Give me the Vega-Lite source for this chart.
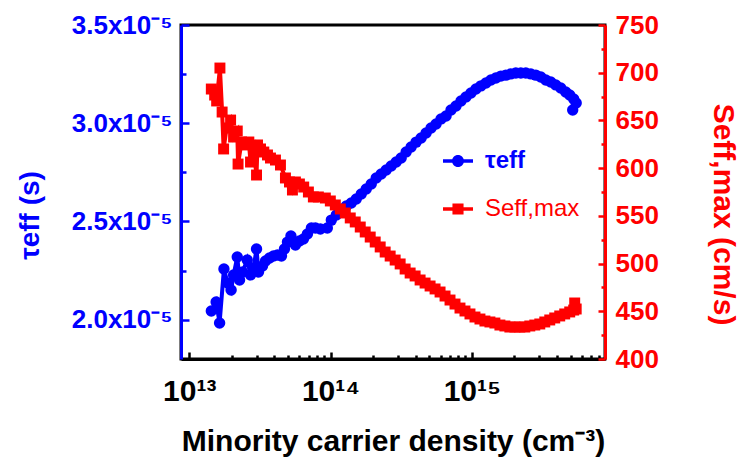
{
  "$schema": "https://vega.github.io/schema/vega-lite/v6.json",
  "width": 424,
  "height": 334,
  "autosize": {"type": "none"},
  "padding": {"left": 181, "top": 25, "right": 137, "bottom": 107},
  "background": "white",
  "config": {
    "view": {"stroke": "black", "strokeWidth": 3},
    "font": "Liberation Sans",
    "axis": {"grid": false, "ticks": true, "labelFont": "Liberation Sans", "titleFont": "Liberation Sans", "labelFontWeight": "bold", "titleFontWeight": "bold", "labelOverlap": false, "labelFlush": false, "labelBound": false}
  },
  "datasets": {
    "tau": [
      {"n": 1.434e13, "tau": 2.044e-5}, {"n": 1.551e13, "tau": 2.090e-5}, {"n": 1.641e13, "tau": 1.983e-5},
      {"n": 1.761e13, "tau": 2.258e-5}, {"n": 1.869e13, "tau": 2.187e-5}, {"n": 1.979e13, "tau": 2.151e-5},
      {"n": 2.061e13, "tau": 2.228e-5}, {"n": 2.188e13, "tau": 2.319e-5}, {"n": 2.272e13, "tau": 2.202e-5},
      {"n": 2.386e13, "tau": 2.243e-5}, {"n": 2.575e13, "tau": 2.304e-5}, {"n": 2.716e13, "tau": 2.228e-5},
      {"n": 2.852e13, "tau": 2.263e-5}, {"n": 2.995e13, "tau": 2.360e-5}, {"n": 3.094e13, "tau": 2.243e-5},
      {"n": 3.302e13, "tau": 2.273e-5}, {"n": 3.467e13, "tau": 2.299e-5}, {"n": 3.700e13, "tau": 2.314e-5},
      {"n": 3.948e13, "tau": 2.324e-5}, {"n": 4.213e13, "tau": 2.329e-5}, {"n": 4.496e13, "tau": 2.324e-5},
      {"n": 4.721e13, "tau": 2.360e-5}, {"n": 4.956e13, "tau": 2.395e-5}, {"n": 5.246e13, "tau": 2.426e-5},
      {"n": 5.644e13, "tau": 2.380e-5}, {"n": 6.024e13, "tau": 2.401e-5}, {"n": 6.429e13, "tau": 2.411e-5},
      {"n": 6.861e13, "tau": 2.436e-5}, {"n": 7.320e13, "tau": 2.467e-5}, {"n": 7.812e13, "tau": 2.467e-5},
      {"n": 8.472e13, "tau": 2.462e-5}, {"n": 9.493e13, "tau": 2.467e-5}, {"n": 1.013e14, "tau": 2.507e-5},
      {"n": 1.099e14, "tau": 2.533e-5}, {"n": 1.192e14, "tau": 2.558e-5}, {"n": 1.293e14, "tau": 2.579e-5},
      {"n": 1.402e14, "tau": 2.594e-5}, {"n": 1.521e14, "tau": 2.614e-5}, {"n": 1.650e14, "tau": 2.640e-5},
      {"n": 1.789e14, "tau": 2.665e-5}, {"n": 1.941e14, "tau": 2.691e-5}, {"n": 2.105e14, "tau": 2.721e-5},
      {"n": 2.284e14, "tau": 2.742e-5}, {"n": 2.477e14, "tau": 2.762e-5}, {"n": 2.687e14, "tau": 2.782e-5},
      {"n": 2.914e14, "tau": 2.803e-5}, {"n": 3.160e14, "tau": 2.823e-5}, {"n": 3.427e14, "tau": 2.854e-5},
      {"n": 3.718e14, "tau": 2.879e-5}, {"n": 4.032e14, "tau": 2.904e-5}, {"n": 4.374e14, "tau": 2.925e-5},
      {"n": 4.744e14, "tau": 2.950e-5}, {"n": 5.145e14, "tau": 2.976e-5}, {"n": 5.581e14, "tau": 2.996e-5},
      {"n": 6.053e14, "tau": 3.022e-5}, {"n": 6.565e14, "tau": 3.037e-5}, {"n": 7.121e14, "tau": 3.067e-5},
      {"n": 7.724e14, "tau": 3.088e-5}, {"n": 8.378e14, "tau": 3.113e-5}, {"n": 9.087e14, "tau": 3.134e-5},
      {"n": 9.856e14, "tau": 3.154e-5}, {"n": 1.069e15, "tau": 3.174e-5}, {"n": 1.159e15, "tau": 3.190e-5},
      {"n": 1.258e15, "tau": 3.205e-5}, {"n": 1.364e15, "tau": 3.220e-5}, {"n": 1.479e15, "tau": 3.230e-5},
      {"n": 1.605e15, "tau": 3.240e-5}, {"n": 1.741e15, "tau": 3.245e-5}, {"n": 1.887e15, "tau": 3.251e-5},
      {"n": 2.047e15, "tau": 3.256e-5}, {"n": 2.221e15, "tau": 3.256e-5}, {"n": 2.409e15, "tau": 3.256e-5},
      {"n": 2.613e15, "tau": 3.251e-5}, {"n": 2.834e15, "tau": 3.245e-5}, {"n": 3.074e15, "tau": 3.235e-5},
      {"n": 3.334e15, "tau": 3.220e-5}, {"n": 3.615e15, "tau": 3.210e-5}, {"n": 3.922e15, "tau": 3.195e-5},
      {"n": 4.254e15, "tau": 3.179e-5}, {"n": 4.614e15, "tau": 3.159e-5}, {"n": 4.923e15, "tau": 3.144e-5},
      {"n": 5.253e15, "tau": 3.123e-5}, {"n": 5.472e15, "tau": 3.103e-5}, {"n": 5.169e15, "tau": 3.067e-5}
    ],
    "seff": [
      {"n": 1.434e13, "s": 682.9}, {"n": 1.514e13, "s": 676.6}, {"n": 1.564e13, "s": 670.4},
      {"n": 1.650e13, "s": 704.9}, {"n": 1.710e13, "s": 658.8}, {"n": 1.752e13, "s": 620.1},
      {"n": 1.839e13, "s": 642.1}, {"n": 1.963e13, "s": 650.4}, {"n": 2.061e13, "s": 632.6},
      {"n": 2.188e13, "s": 638.9}, {"n": 2.217e13, "s": 604.3}, {"n": 2.347e13, "s": 627.4},
      {"n": 2.504e13, "s": 624.3}, {"n": 2.642e13, "s": 627.4}, {"n": 2.716e13, "s": 606.4},
      {"n": 2.852e13, "s": 619.0}, {"n": 2.995e13, "s": 592.8}, {"n": 3.044e13, "s": 624.3},
      {"n": 3.196e13, "s": 620.1}, {"n": 3.372e13, "s": 616.9}, {"n": 3.581e13, "s": 613.8},
      {"n": 3.760e13, "s": 610.6}, {"n": 4.077e13, "s": 608.5}, {"n": 4.423e13, "s": 603.3},
      {"n": 4.797e13, "s": 589.7}, {"n": 5.121e13, "s": 585.5}, {"n": 5.376e13, "s": 577.1},
      {"n": 5.644e13, "s": 585.5}, {"n": 6.024e13, "s": 583.4}, {"n": 6.460e13, "s": 580.2},
      {"n": 6.973e13, "s": 575.0}, {"n": 7.561e13, "s": 569.8}, {"n": 8.202e13, "s": 569.8},
      {"n": 9.190e13, "s": 568.7}, {"n": 9.968e13, "s": 565.6}, {"n": 1.081e14, "s": 561.4},
      {"n": 1.173e14, "s": 557.2}, {"n": 1.272e14, "s": 553.0}, {"n": 1.379e14, "s": 547.8},
      {"n": 1.496e14, "s": 543.6}, {"n": 1.623e14, "s": 538.3}, {"n": 1.760e14, "s": 533.1},
      {"n": 1.909e14, "s": 527.8}, {"n": 2.071e14, "s": 522.6}, {"n": 2.246e14, "s": 517.4},
      {"n": 2.436e14, "s": 512.1}, {"n": 2.642e14, "s": 507.9}, {"n": 2.866e14, "s": 503.7},
      {"n": 3.109e14, "s": 499.6}, {"n": 3.372e14, "s": 494.3}, {"n": 3.658e14, "s": 490.1},
      {"n": 3.967e14, "s": 487.0}, {"n": 4.303e14, "s": 482.8}, {"n": 4.667e14, "s": 479.6},
      {"n": 5.063e14, "s": 476.5}, {"n": 5.491e14, "s": 473.4}, {"n": 5.956e14, "s": 470.2},
      {"n": 6.460e14, "s": 466.0}, {"n": 7.005e14, "s": 461.8}, {"n": 7.599e14, "s": 457.6},
      {"n": 8.241e14, "s": 453.4}, {"n": 8.939e14, "s": 450.3}, {"n": 9.696e14, "s": 447.2},
      {"n": 1.052e15, "s": 444.0}, {"n": 1.141e15, "s": 441.9}, {"n": 1.237e15, "s": 439.8},
      {"n": 1.342e15, "s": 438.8}, {"n": 1.455e15, "s": 437.7}, {"n": 1.579e15, "s": 435.6},
      {"n": 1.712e15, "s": 434.6}, {"n": 1.857e15, "s": 433.5}, {"n": 2.015e15, "s": 433.5},
      {"n": 2.185e15, "s": 433.5}, {"n": 2.370e15, "s": 433.5}, {"n": 2.570e15, "s": 434.6},
      {"n": 2.788e15, "s": 435.6}, {"n": 3.024e15, "s": 436.7}, {"n": 3.280e15, "s": 438.8},
      {"n": 3.557e15, "s": 440.9}, {"n": 3.858e15, "s": 443.0}, {"n": 4.185e15, "s": 445.1},
      {"n": 4.539e15, "s": 447.2}, {"n": 4.924e15, "s": 449.3}, {"n": 5.254e15, "s": 451.3},
      {"n": 5.472e15, "s": 452.4}, {"n": 5.341e15, "s": 458.7}
    ],
    "none": []
  },
  "layer": [
    {
      "data": {"name": "tau"},
      "layer": [
        {
          "mark": {"type": "line", "color": "#0000ff", "strokeWidth": 4},
          "encoding": {
            "x": {
              "field": "n", "type": "quantitative",
              "scale": {"type": "log", "domain": [8.75e12, 8.75e15], "nice": false},
              "axis": {
                "orient": "bottom",
                "values": [1e13, 1e14, 1e15],
                "labelExpr": "datum.value == 1e13 ? '10¹³' : datum.value == 1e14 ? '10¹⁴' : '10¹⁵'",
                "tickSize": -7, "tickColor": "black", "tickWidth": 2.5,
                "domainColor": "black", "domainWidth": 3,
                "labelFontSize": 30, "labelColor": "black", "labelPadding": 24,
                "title": "Minority carrier density (cm⁻³)",
                "titleFontSize": 30, "titleColor": "black",
                "titleX": 212, "titleY": 91, "titleAlign": "center", "titleBaseline": "alphabetic"
              }
            },
            "y": {
              "field": "tau", "type": "quantitative",
              "scale": {"domain": [1.8e-5, 3.5e-5], "nice": false, "zero": false},
              "axis": {
                "orient": "left",
                "values": [2.0e-5, 2.5e-5, 3.0e-5, 3.5e-5],
                "labelExpr": "format(datum.value*1e5, '.1f') + 'x10⁻⁵'",
                "tickSize": -8, "tickColor": "#0000ff", "tickWidth": 2.5,
                "domainColor": "#0000ff", "domainWidth": 3,
                "labelColor": "#0000ff", "labelFontSize": 26, "labelPadding": 17,
                "title": "τeff (s)", "titleColor": "#0000ff", "titleFontSize": 28,
                "titleAngle": -90, "titleX": -151, "titleY": 190, "titleAlign": "center", "titleBaseline": "middle"
              }
            },
            "order": {"value": null}
          }
        },
        {
          "mark": {"type": "point", "shape": "circle", "filled": true, "color": "#0000ff", "opacity": 1, "size": 130},
          "encoding": {
            "x": {
              "field": "n", "type": "quantitative",
              "scale": {"type": "log", "domain": [8.75e12, 8.75e15], "nice": false},
              "axis": {
                "orient": "bottom",
                "values": [2e13, 3e13, 4e13, 5e13, 6e13, 7e13, 8e13, 9e13, 2e14, 3e14, 4e14, 5e14, 6e14, 7e14, 8e14, 9e14, 2e15, 3e15, 4e15, 5e15, 6e15, 7e15, 8e15],
                "labels": false, "domain": false, "title": null,
                "tickSize": -4, "tickColor": "black", "tickWidth": 2.5
              }
            },
            "y": {
              "field": "tau", "type": "quantitative",
              "scale": {"domain": [1.8e-5, 3.5e-5], "nice": false, "zero": false},
              "axis": {
                "orient": "left",
                "values": [2.25e-5, 2.75e-5, 3.25e-5],
                "labels": false, "domain": false, "title": null,
                "tickSize": -5, "tickColor": "#0000ff", "tickWidth": 2.5
              }
            }
          }
        }
      ],
      "resolve": {"axis": {"x": "independent", "y": "independent"}}
    },
    {
      "data": {"name": "seff"},
      "layer": [
        {
          "mark": {"type": "line", "color": "#ff0000", "strokeWidth": 4},
          "encoding": {
            "x": {
              "field": "n", "type": "quantitative",
              "scale": {"type": "log", "domain": [8.75e12, 8.75e15], "nice": false},
              "axis": null
            },
            "y": {
              "field": "s", "type": "quantitative",
              "scale": {"domain": [400, 750], "nice": false, "zero": false},
              "axis": {
                "orient": "right",
                "values": [400, 450, 500, 550, 600, 650, 700, 750],
                "labelExpr": "format(datum.value, 'd')",
                "tickSize": -7, "tickColor": "#ff0000", "tickWidth": 2.5,
                "domainColor": "#ff0000", "domainWidth": 3,
                "labelColor": "#ff0000", "labelFontSize": 26, "labelPadding": 17,
                "title": "Seff,max (cm/s)", "titleColor": "#ff0000", "titleFontSize": 30,
                "titleAngle": 90, "titleX": 117, "titleY": 189, "titleAlign": "center", "titleBaseline": "middle"
              }
            },
            "order": {"value": null}
          }
        },
        {
          "mark": {"type": "point", "shape": "square", "filled": true, "color": "#ff0000", "opacity": 1, "size": 120},
          "encoding": {
            "x": {
              "field": "n", "type": "quantitative",
              "scale": {"type": "log", "domain": [8.75e12, 8.75e15], "nice": false},
              "axis": null
            },
            "y": {
              "field": "s", "type": "quantitative",
              "scale": {"domain": [400, 750], "nice": false, "zero": false},
              "axis": {
                "orient": "right",
                "values": [425, 475, 525, 575, 625, 675, 725],
                "labels": false, "domain": false, "title": null,
                "tickSize": -4, "tickColor": "#ff0000", "tickWidth": 2.5
              }
            }
          }
        }
      ],
      "resolve": {"axis": {"y": "independent"}}
    },
    {
      "data": {"name": "none"},
      "mark": {"type": "point", "filled": true, "opacity": 1, "size": 900},
      "encoding": {
        "color": {
          "field": "series",
          "type": "nominal",
          "scale": {"domain": ["tau", "S"], "range": ["#0000ff", "#ff0000"]},
          "legend": {
            "orient": "none", "legendX": 262, "legendY": 121, "title": null, "padding": 0,
            "rowPadding": 21, "labelOffset": 12, "labelFontSize": 24, "labelFont": "Liberation Sans",
            "symbolSize": 900, "symbolStrokeWidth": 0, "symbolOpacity": 1,
            "labelExpr": "datum.value == 'tau' ? 'τeff' : 'Seff,max'",
            "encode": {"labels": {"update": {"fill": {"signal": "datum.value == 'tau' ? '#0000ff' : '#ff0000'"}, "fontWeight": {"signal": "datum.value == 'tau' ? 'bold' : 'normal'"}}}}
          }
        },
        "shape": {
          "field": "series",
          "type": "nominal",
          "scale": {"domain": ["tau", "S"], "range": ["M-1,-0.12 L1,-0.12 L1,0.12 L-1,0.12 Z M-0.4,0 A0.4,0.4 0 1,1 0.4,0 A0.4,0.4 0 1,1 -0.4,0 Z", "M-1,-0.12 L1,-0.12 L1,0.12 L-1,0.12 Z M-0.37,-0.37 L0.37,-0.37 L0.37,0.37 L-0.37,0.37 Z"]},
          "legend": {
            "orient": "none", "legendX": 262, "legendY": 121, "title": null, "padding": 0,
            "rowPadding": 21, "labelOffset": 12, "labelFontSize": 24, "labelFont": "Liberation Sans",
            "symbolSize": 900, "symbolStrokeWidth": 0, "symbolOpacity": 1,
            "labelExpr": "datum.value == 'tau' ? 'τeff' : 'Seff,max'",
            "encode": {"labels": {"update": {"fill": {"signal": "datum.value == 'tau' ? '#0000ff' : '#ff0000'"}, "fontWeight": {"signal": "datum.value == 'tau' ? 'bold' : 'normal'"}}}}
          }
        }
      }
    }
  ],
  "resolve": {"scale": {"y": "independent"}, "axis": {"x": "independent", "y": "independent"}}
}
